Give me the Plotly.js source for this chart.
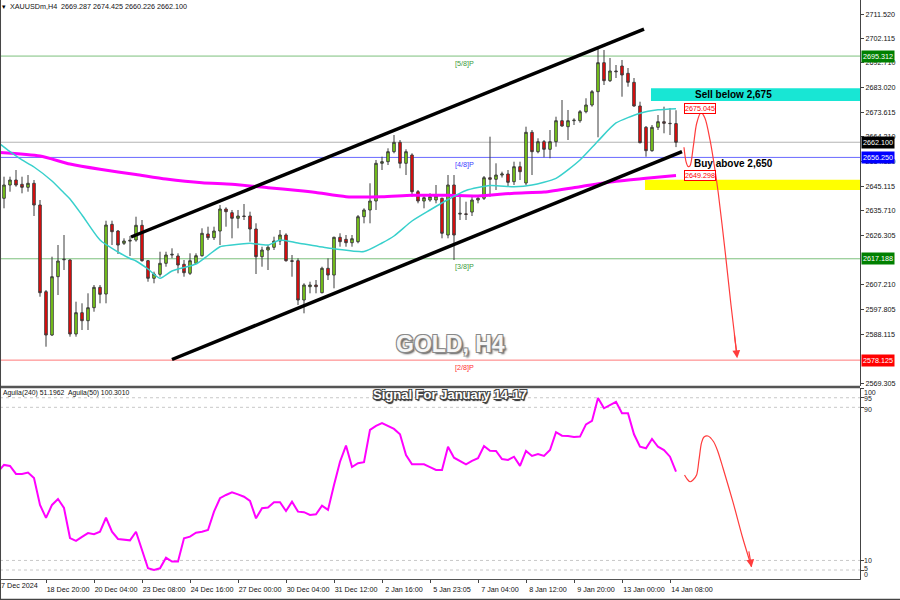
<!DOCTYPE html>
<html><head><meta charset="utf-8">
<script src="https://cdn.plot.ly/plotly-3.0.1.min.js"></script>
<style>html,body{margin:0;padding:0;background:#fff}#chart{width:900px;height:600px}</style>
</head><body><div id="chart"></div>
<script>
// ---------- DATA ----------
const openP = [2640.50,2645.62,2647.55,2645.89,2644.73,2646.28,2637.91,2604.50,2587.81,2610.28,2616.80,2616.72,2588.20,2596.41,2593.32,2598.33,2606.19,2603.61,2630.47,2627.89,2623.15,2624.00,2624.42,2630.09,2616.45,2609.66,2611.20,2615.44,2618.64,2618.26,2615.06,2611.59,2615.44,2618.37,2626.74,2625.31,2627.89,2636.37,2634.95,2632.79,2633.67,2633.67,2628.66,2617.99,2620.57,2621.61,2624.04,2626.35,2616.45,2616.45,2601.30,2606.43,2607.08,2604.11,2613.52,2610.93,2625.47,2624.69,2623.38,2623.77,2633.40,2635.99,2639.45,2653.98,2654.60,2658.46,2662.08,2653.98,2657.18,2643.04,2639.45,2639.84,2639.84,2640.50,2626.35,2645.62,2634.40,2634.50,2635.20,2639.84,2640.50,2648.43,2647.82,2649.47,2649.86,2646.89,2652.67,2646.39,2665.93,2658.46,2662.31,2659.38,2662.31,2670.40,2668.09,2670.40,2670.40,2673.87,2676.45,2681.58,2692.76,2685.82,2689.56,2691.48,2688.67,2685.20,2676.07,2667.86,2658.84,2667.86,2670.02,2669.40,2669.287];
const highP = [2648.82,2648.82,2651.40,2648.82,2649.47,2647.55,2639.84,2605.15,2617.99,2622.50,2626.35,2617.00,2600.65,2600.03,2603.88,2607.08,2607.08,2631.86,2631.86,2628.28,2625.08,2625.97,2633.40,2632.13,2616.72,2612.21,2619.91,2619.91,2621.22,2619.30,2616.72,2619.30,2619.30,2628.93,2629.55,2629.55,2637.91,2637.03,2635.99,2635.99,2638.30,2635.33,2630.86,2621.84,2622.50,2625.70,2628.28,2627.02,2618.64,2617.37,2607.74,2608.35,2609.01,2614.13,2617.37,2625.70,2627.01,2626.35,2626.35,2634.06,2636.64,2646.28,2655.26,2656.53,2659.76,2664.89,2662.96,2659.38,2657.84,2643.69,2642.15,2642.42,2645.62,2640.73,2649.47,2649.47,2641.11,2639.19,2641.11,2641.76,2649.09,2664.24,2653.98,2650.75,2651.40,2654.60,2654.60,2668.09,2666.82,2663.62,2662.96,2666.82,2671.94,2678.38,2674.53,2671.33,2674.53,2679.04,2682.23,2698.31,2697.65,2694.57,2691.87,2693.80,2690.71,2686.86,2677.72,2668.36,2668.74,2672.60,2675.80,2675.30,2674.425];
const lowP = [2636.64,2643.04,2644.97,2642.42,2643.04,2633.67,2602.57,2583.30,2587.43,2603.23,2612.86,2587.16,2587.16,2589.74,2589.74,2596.79,2600.03,2600.03,2622.50,2619.03,2622.50,2618.26,2623.77,2616.06,2608.35,2607.74,2610.28,2614.13,2617.37,2611.59,2610.28,2610.93,2615.17,2617.99,2624.42,2624.42,2622.50,2629.55,2625.08,2628.93,2632.13,2623.77,2611.32,2614.13,2612.86,2620.57,2622.50,2616.06,2610.28,2599.37,2596.17,2603.88,2603.88,2603.88,2609.01,2605.81,2621.84,2621.84,2621.84,2623.15,2630.86,2630.86,2635.99,2651.40,2653.33,2657.84,2652.06,2649.47,2641.11,2638.57,2636.64,2639.19,2638.57,2625.08,2625.08,2616.72,2632.13,2632.13,2633.67,2638.57,2639.84,2641.11,2643.69,2648.50,2645.24,2645.62,2647.55,2645.62,2649.47,2657.84,2656.30,2655.91,2660.38,2668.09,2662.96,2668.74,2669.63,2673.25,2675.80,2664.00,2684.16,2685.31,2686.86,2679.65,2683.51,2675.80,2661.69,2656.53,2658.46,2666.82,2665.55,2664.89,2660.226];
const closeP = [2645.62,2647.55,2645.62,2644.73,2646.28,2637.91,2604.11,2587.81,2610.28,2616.33,2617.00,2588.20,2596.41,2593.32,2598.33,2606.19,2603.50,2630.20,2627.62,2622.50,2624.04,2624.30,2630.09,2616.45,2609.66,2611.32,2615.44,2618.64,2618.90,2614.79,2611.82,2616.45,2618.37,2627.01,2625.31,2627.89,2636.37,2635.33,2632.79,2633.67,2633.50,2628.66,2617.99,2620.57,2621.61,2624.04,2626.35,2616.45,2616.20,2601.30,2607.08,2607.08,2606.43,2613.52,2610.93,2625.47,2623.77,2623.38,2624.92,2633.40,2635.99,2639.45,2653.98,2654.60,2658.46,2662.08,2653.98,2658.46,2643.04,2639.45,2640.73,2641.11,2641.38,2627.01,2645.62,2626.35,2634.70,2634.30,2639.84,2640.50,2648.43,2647.82,2649.47,2649.86,2646.66,2652.67,2650.75,2665.93,2658.46,2662.31,2659.38,2662.31,2670.40,2668.36,2670.40,2670.60,2673.87,2676.45,2681.58,2692.76,2685.82,2689.56,2689.30,2688.02,2685.20,2676.07,2661.92,2658.84,2667.86,2670.02,2669.40,2669.29,2662.100];

// fast MA (cyan) and slow MA (magenta), sampled at bar indices
const maFastIdx = [-1,1,3,5,8,10,11,13,16,19,21,22,24,26,28,32,34,36,38,41,44,46,49,54,60,63,65,68,71,74,77,81,85,88,92,96,99,102,106,109,112];
const maFastVal = [2662.0,2658.46,2655.26,2652.56,2647.16,2642.54,2640.23,2634.06,2624.42,2619.80,2617.29,2616.33,2613.25,2609.66,2612.48,2615.17,2618.45,2621.84,2622.50,2623.15,2622.50,2624.42,2623.26,2621.33,2619.99,2623.27,2625.97,2631.75,2635.99,2640.03,2643.50,2645.43,2644.97,2645.62,2648.20,2655.26,2662.58,2669.52,2673.25,2674.60,2675.045];
const maSlowIdx = [-1,6,11,16,22,27,33,38,44,49,52,57,63,68,74,79,85,90,96,102,107,112];
const maSlowVal = [2658.22,2656.80,2653.71,2651.67,2649.67,2647.93,2646.47,2645.93,2644.58,2643.50,2642.73,2641.11,2641.07,2641.65,2641.65,2641.38,2642.46,2642.92,2644.97,2647.09,2648.20,2649.298];

// oscillator (lower panel), from bar -1 to bar 112
const aguila = [56.4,59.9,59.4,55.2,55.2,55.9,53.1,39.0,32.2,39.0,42.1,37.4,21.7,20.2,22.3,24.3,23.7,25.0,32.3,25.0,21.2,20.7,20.5,25.0,15.5,5.9,5.0,5.9,11.4,9.4,9.4,21.6,22.4,24.5,25.0,25.9,35.5,42.5,44.2,45.6,44.5,43.3,41.1,32.0,37.3,37.6,40.4,40.4,35.8,40.7,35.5,35.2,33.8,34.1,38.6,36.4,49.4,61.6,70.0,58.8,60.8,61.3,78.2,80.3,81.7,80.4,78.7,75.9,65.1,60.2,60.2,60.2,58.8,57.3,57.3,69.4,63.7,62.0,60.2,62.0,63.4,69.8,67.3,67.2,63.0,62.5,64.2,59.4,67.2,64.6,65.6,64.6,67.7,77.0,75.2,75.0,74.5,74.7,81.1,82.9,94.9,89.5,91.2,92.9,86.9,86.9,75.9,69.4,68.6,73.5,69.4,67.7,64.2,56.4];

// channel lines [bar index, price]
const channelUpper = [[21.17,2625.58],[106.67,2705.74]];
const channelLower = [[28.0,2578.37],[113.0,2658.53]];

// projected path (main panel) and projected oscillator path
const projIdx = [113.33,113.67,114.0,114.33,114.88,115.45,116.17,116.83,117.67,118.5,119.05,120.17,121.17,122.17];
const projPrice = [2660.17,2654.62,2652.77,2652.96,2660.40,2669.42,2673.50,2671.34,2662.98,2651.41,2642.43,2620.45,2599.26,2579.72];
const oscProjIdx = [113.42,113.83,114.33,114.83,115.43,115.83,116.25,116.67,117.33,118.27,119.0,119.83,121.5,123.12,124.58];
const oscProjVal = [54.6,52.6,51.1,52.0,54.6,62.5,71.4,74.5,75.0,72.0,66.7,58.3,40.5,21.7,6.7];

// levels
const levelPrices = [2695.312,2656.250,2617.188,2578.125];
const levelNames = ['[5/8]P','[4/8]P','[3/8]P','[2/8]P'];
const bidPrice = 2662.100;
const maFastLast = 2675.045, maSlowLast = 2649.298;
const sellZone = [2678.0,2682.89], buyZone = [2643.69,2647.66];

// axis ticks
const priceTicks = [2711.520,2702.115,2692.710,2683.020,2673.615,2664.210,2654.520,2645.115,2635.710,2626.305,2607.210,2597.805,2588.115,2569.305];
const tickIndex = [7,15,23,31,39,47,55,63,71,79,87,95,103,111];
const tickLabels = ['18 Dec 20:00','20 Dec 04:00','23 Dec 08:00','24 Dec 16:00','27 Dec 00:00','30 Dec 04:00','31 Dec 12:00','2 Jan 16:00','5 Jan 23:05','7 Jan 04:00','8 Jan 12:00','9 Jan 20:00','13 Jan 00:00','14 Jan 08:00'];
const oscTicks = [100,95,90,10,5,0];
const oscLabelPos = [98.0,94.7,89.1,10.2,5.9,2.8];

// ---------- BUILD ----------
const FONT = 'Liberation Sans, Arial, sans-serif';
const barIdx = openP.map((_, i) => i);
const aguilaIdx = aguila.map((_, i) => i - 1);
const XR = [-0.667, 142.667];

const traces = [
  {type:'candlestick', x:barIdx, open:openP, high:highP, low:lowP, close:closeP,
   xaxis:'x', yaxis:'y', whiskerwidth:0, hoverinfo:'skip',
   increasing:{line:{color:'#3c3c3c', width:1}, fillcolor:'#80E010'},
   decreasing:{line:{color:'#3c3c3c', width:1}, fillcolor:'#FF0000'}},
  {type:'scatter', mode:'lines', x:maSlowIdx, y:maSlowVal, xaxis:'x', yaxis:'y',
   line:{color:'#FF00FF', width:3, shape:'spline', smoothing:0.6}, hoverinfo:'skip'},
  {type:'scatter', mode:'lines', x:maFastIdx, y:maFastVal, xaxis:'x', yaxis:'y',
   line:{color:'#38D0CC', width:1.5, shape:'spline', smoothing:0.6}, hoverinfo:'skip'},
  {type:'scatter', mode:'lines', x:channelUpper.map(p=>p[0]), y:channelUpper.map(p=>p[1]), xaxis:'x', yaxis:'y',
   line:{color:'#000', width:3.5}, hoverinfo:'skip'},
  {type:'scatter', mode:'lines', x:channelLower.map(p=>p[0]), y:channelLower.map(p=>p[1]), xaxis:'x', yaxis:'y',
   line:{color:'#000', width:3.5}, hoverinfo:'skip'},
  {type:'scatter', mode:'lines', x:projIdx, y:projPrice, xaxis:'x', yaxis:'y',
   line:{color:'#FF3C3C', width:1.2, shape:'spline', smoothing:0.8}, hoverinfo:'skip'},
  {type:'scatter', mode:'lines', x:aguilaIdx, y:aguila, xaxis:'x', yaxis:'y2',
   line:{color:'#FF00FF', width:2}, hoverinfo:'skip'},
  {type:'scatter', mode:'lines', x:oscProjIdx, y:oscProjVal, xaxis:'x', yaxis:'y2',
   line:{color:'#FF3C3C', width:1.2, shape:'spline', smoothing:0.8}, hoverinfo:'skip'}
];

const levelColors = ['#3a9a3a','#3c3cff','#3a9a3a','#ff3030'];
const levelLine = ['#7cc07c','#6a6aff','#7cc07c','#ff7a7a'];
const levelBg = ['#008000','#0000FF','#008000','#FF0000'];

const shapes = [
  {type:'rect', xref:'x', yref:'y', x0:107.83, x1:XR[1], y0:sellZone[0], y1:sellZone[1], fillcolor:'#18E6D4', line:{width:0}, layer:'below'},
  {type:'rect', xref:'x', yref:'y', x0:106.83, x1:XR[1], y0:buyZone[0], y1:buyZone[1], fillcolor:'#FFFF00', line:{width:0}, layer:'below'},
  {type:'line', xref:'paper', yref:'y', x0:0, x1:1, y0:bidPrice, y1:bidPrice, line:{color:'#b4b4b4', width:1}, layer:'below'},
  // lower panel level lines
  ...[95,90,10,5].map(v => ({type:'line', xref:'paper', yref:'y2', x0:0, x1:1, y0:v, y1:v, line:{color:'#c8c8c8', width:1, dash:'dot'}, layer:'below'})),
  // panel separator
  {type:'line', xref:'paper', yref:'paper', x0:0, x1:1, y0:0.3316, y1:0.3316, line:{color:'#555', width:2.5}},
  // left & bottom frame
  {type:'line', xref:'paper', yref:'paper', x0:0.0006, x1:0.0006, y0:-21/579, y1:1, line:{color:'#444', width:1}},
  {type:'line', xref:'paper', yref:'paper', x0:0, x1:900/860, y0:-20.5/579, y1:-20.5/579, line:{color:'#444', width:1.5}}
];
levelPrices.forEach((p, k) => shapes.push({type:'line', xref:'paper', yref:'y', x0:0, x1:1, y0:p, y1:p,
  line:{color:levelLine[k], width:1}, layer:'below'}));

const small = {family:FONT, size:7.2, color:'#111'};
const annotations = [
  {xref:'paper', yref:'paper', x:0, y:0.988, xanchor:'left', yanchor:'middle', showarrow:false,
   text:'\u25BE', font:{family:'DejaVu Sans', size:7, color:'#000'}},
  {xref:'paper', yref:'paper', x:8/860, y:0.988, xanchor:'left', yanchor:'middle', showarrow:false,
   text:'XAUUSDm,H4\u00a0\u00a02669.287 2674.425 2660.226 2662.100', font:small},
  {xref:'paper', yref:'paper', x:1/860, y:(579-393)/579, xanchor:'left', yanchor:'middle', showarrow:false,
   text:'Aguila(240) 51.1962\u00a0\u00a0Aguila(50) 100.3010', font:{family:FONT, size:6.8, color:'#111'}},
  {xref:'paper', yref:'paper', x:451/860, y:(579-344)/579, xanchor:'center', yanchor:'middle', showarrow:false,
   text:'GOLD, H4', font:{family:FONT, size:23, weight:700, color:'#f6f6f6',
   shadow:'-1px -1px 0 #8a8a8a, 1px -1px 0 #8a8a8a, -1px 1px 0 #8a8a8a, 1px 1px 0 #8a8a8a, 2px 2px 2px #555'}},
  {xref:'paper', yref:'paper', x:450/860, y:(579-394)/579, xanchor:'center', yanchor:'middle', showarrow:false,
   text:'Signal For January 14-17', font:{family:FONT, size:13, weight:700, color:'#ffffff',
   shadow:'-1px -1px 0 #444, 1px -1px 0 #444, -1px 1px 0 #444, 1px 1px 0 #444, 1px 2px 1px #222'}},
  {xref:'x', yref:'y', x:121.65, y:2680.5, xanchor:'center', yanchor:'middle', showarrow:false,
   text:'Sell below 2,675', font:{family:FONT, size:10, weight:700, color:'#000'}},
  {xref:'x', yref:'y', x:121.6, y:2653.98, xanchor:'center', yanchor:'middle', showarrow:false,
   text:'Buy above 2,650', font:{family:FONT, size:10, weight:700, color:'#000'}},
  {xref:'x', yref:'y', x:113.3, y:maFastLast, xanchor:'left', yanchor:'middle', showarrow:false,
   text:'2675.045', font:{family:FONT, size:7.2, color:'#ff0000'}, bgcolor:'#fff', bordercolor:'#ff0000', borderwidth:1, borderpad:0},
  {xref:'x', yref:'y', x:113.3, y:maSlowLast, xanchor:'left', yanchor:'middle', showarrow:false,
   text:'2649.298', font:{family:FONT, size:7.2, color:'#ff0000'}, bgcolor:'#fff', bordercolor:'#ff0000', borderwidth:1, borderpad:0},
  // arrow heads
  {xref:'x', yref:'y', axref:'x', ayref:'y', x:122.2, y:2578.9, ax:121.7, ay:2588.5, showarrow:true, text:'',
   arrowhead:2, arrowsize:1.3, arrowwidth:1.2, arrowcolor:'#FF3C3C'},
  {xref:'x', yref:'y2', axref:'x', ayref:'y2', x:124.6, y:6.4, ax:124.1, ay:15.5, showarrow:true, text:'',
   arrowhead:2, arrowsize:1.3, arrowwidth:1.2, arrowcolor:'#FF3C3C'},
  // first (clipped) date label
  {xref:'paper', yref:'paper', x:0, y:-7/579, xanchor:'left', yanchor:'middle', xshift:-5, showarrow:false,
   text:'17 Dec 2024', font:small}
];
levelPrices.forEach((p, k) => annotations.push(
  {xref:'x', yref:'y', x:76.83, y:p, xanchor:'center', yanchor:'top', yshift:-1, showarrow:false,
   text:levelNames[k], font:{family:FONT, size:7.2, color:levelColors[k]}},
  {xref:'paper', yref:'y', x:1, y:p, xanchor:'left', yanchor:'middle', xshift:1, showarrow:false,
   text:p.toFixed(3), font:{family:FONT, size:7.2, color:'#fff'}, bgcolor:levelBg[k], borderpad:1}
));
annotations.push({xref:'paper', yref:'y', x:1, y:bidPrice, xanchor:'left', yanchor:'middle', xshift:1, showarrow:false,
  text:bidPrice.toFixed(3), font:{family:FONT, size:7.2, color:'#fff'}, bgcolor:'#000', borderpad:1});
oscTicks.forEach((t, k) => annotations.push({xref:'paper', yref:'y2', x:1, y:oscLabelPos[k], xanchor:'left', yanchor:'middle',
  xshift:2, showarrow:false, text:String(t), font:{family:FONT, size:7, color:'#222'}}));

const layout = {
  width:900, height:600, margin:{l:0, r:40, t:0, b:21},
  paper_bgcolor:'#fff', plot_bgcolor:'#fff', showlegend:false, hovermode:false, dragmode:false,
  boxgap:0.4,
  xaxis:{domain:[0,1], range:XR, anchor:'y2', rangeslider:{visible:false}, showgrid:false, zeroline:false,
    tickmode:'array', tickvals:tickIndex, ticktext:tickLabels, ticks:'outside', ticklen:3, tickcolor:'#444',
    showline:true, linecolor:'#555', linewidth:1, tickfont:small, ticklabelshift:22, ticklabelstandoff:0},
  yaxis:{domain:[0.3333,1], range:[2568.15,2716.92], side:'right', anchor:'x', showgrid:false, zeroline:false,
    tickmode:'array', tickvals:priceTicks, ticktext:priceTicks.map(v=>v.toFixed(3)), ticks:'outside', ticklen:3,
    tickcolor:'#444', showline:true, linecolor:'#444', linewidth:1, tickfont:small},
  yaxis2:{domain:[0,0.3299], range:[0.3,100.1], side:'right', anchor:'x', showgrid:false, zeroline:false,
    tickmode:'array', tickvals:oscTicks, showticklabels:false, ticks:'outside', ticklen:3, tickcolor:'#444',
    showline:true, linecolor:'#444', linewidth:1},
  shapes:shapes, annotations:annotations
};

Plotly.newPlot('chart', traces, layout, {staticPlot:true, displayModeBar:false});
</script></body></html>
